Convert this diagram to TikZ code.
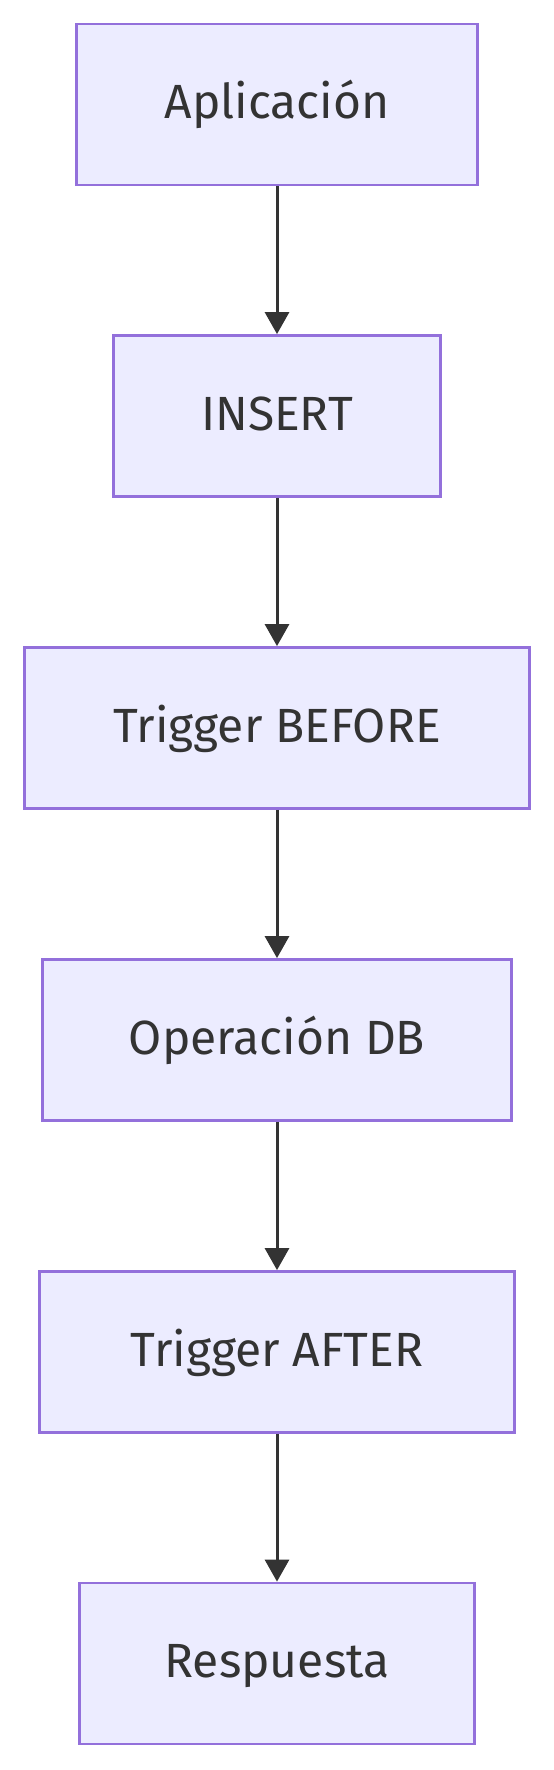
\documentclass[tikz,border=0pt]{standalone}
\usepackage{fontspec}
\setmainfont{Fira Sans}
\usetikzlibrary{arrows.meta}
\definecolor{boxfill}{HTML}{ECECFF}
\definecolor{boxline}{HTML}{9370DB}
\definecolor{ink}{HTML}{333333}
\begin{document}
\begin{tikzpicture}[x=1pt,y=-1pt,
  box/.style={draw=boxline, fill=boxfill, line width=2.8pt, minimum height=161pt,
    inner sep=0pt, text=ink, text height=38pt, text depth=10pt,
    font=\fontsize{48}{57}\selectfont},
  flow/.style={draw=ink, line width=3pt, -{Triangle[length=22pt,width=24pt]}}]
\useasboundingbox (0,0) rectangle (554,1770);
\fill[white] (0,0) rectangle (554,1770);
\node[box, minimum width=401pt] (a) at (277,104.5) {Aplicación};
\node[box, minimum width=327pt] (b) at (277,416) {INSERT};
\node[box, minimum width=505pt] (c) at (277,728) {Trigger BEFORE};
\node[box, minimum width=469pt] (d) at (277,1040) {Operación DB};
\node[box, minimum width=475pt] (e) at (277,1352) {Trigger AFTER};
\node[box, minimum width=395pt] (f) at (277,1663.5) {Respuesta};
\draw[flow] (a.south) -- (b.north);
\draw[flow] (b.south) -- (c.north);
\draw[flow] (c.south) -- (d.north);
\draw[flow] (d.south) -- (e.north);
\draw[flow] (e.south) -- (f.north);
\end{tikzpicture}
\end{document}
